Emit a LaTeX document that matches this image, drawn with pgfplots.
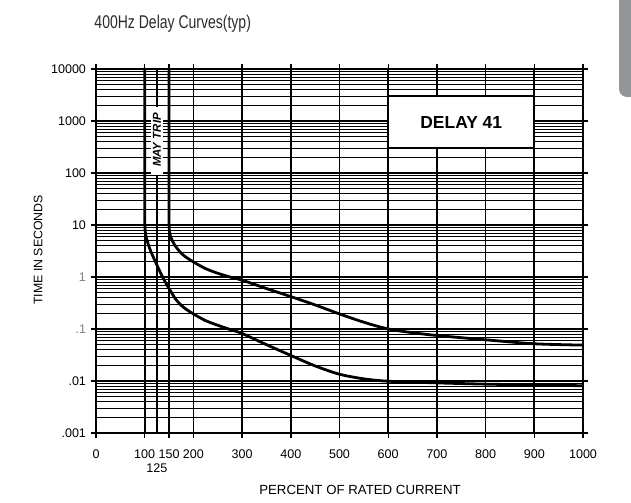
\documentclass[border=0pt]{standalone}
\usepackage{pgfplots}
\pgfplotsset{compat=1.18}
\usepackage{fontspec}
\setmainfont{Liberation Sans}
\newfontfamily\condfont[FakeStretch=0.76]{Liberation Sans}
\definecolor{tabgray}{HTML}{939598}
\definecolor{titlegray}{HTML}{2B2B2B}

\begin{document}
\begin{tikzpicture}[x=1bp,y=1bp]
\useasboundingbox (-96,-70) rectangle (535,433);
% side tab
\fill[tabgray, rounded corners=8bp] (523,450) -- (523,336) -- (560,336) -- (560,450) -- cycle;
% title
\node[anchor=base west, inner sep=0, text=titlegray,
      font=\condfont\fontsize{18.5}{20}\selectfont] at (-1.7,404.5) {400Hz Delay Curves(typ)};

\begin{axis}[
  at={(0,0)}, anchor=south west, scale only axis,
  width=487bp, height=364bp,
  xmin=0, xmax=1000, ymin=1e-3, ymax=1e4, ymode=log,
  xtick={0,100,150,200,300,400,500,600,700,800,900,1000},
  xticklabels={0,100,150,200,300,400,500,600,700,800,900,1000},
  ytick={1e-3,1e-2,1e-1,1,10,100,1000,10000},
  yticklabels={.001,.01,\textcolor{gray}{.1},\textcolor{gray}{1},10,100,1000,10000},
  grid=both,
  major grid style={line width=1.7bp, black},
  minor grid style={line width=1.05bp, black},
  axis line style={line width=1.8bp},
  tick align=outside,
  major tick length=5bp,
  minor tick length=0pt,
  tick style={line width=1.4bp, black},
  ticklabel style={font=\fontsize{12.6}{14}\selectfont},
  xticklabel style={anchor=base, yshift=-21bp},
  yticklabel style={anchor=east, xshift=-1.5bp},
  clip=false,
]
% lower curve
\addplot[line width=2.8bp, smooth, tension=0.5] coordinates {
  (100,10000)(100,100)(100,15)(100.5,9)(102,6.5)(105,5)(112,3.2)(125,1.7)
  (138,0.95)(150,0.6)(165,0.36)(180,0.26)(200,0.195)(225,0.145)(250,0.118)
  (275,0.098)(300,0.082)(350,0.05)(400,0.031)(450,0.0195)(500,0.0135)
  (550,0.011)(600,0.0099)(700,0.0092)(800,0.0087)(900,0.0084)(1000,0.0081)
};
% upper curve
\addplot[line width=2.8bp, smooth, tension=0.5] coordinates {
  (150,10000)(150,100)(150,12)(150.5,8)(152,6.5)(158,4.7)(167,3.5)(180,2.6)
  (200,1.95)(225,1.45)(250,1.18)(275,1.0)(300,0.87)(350,0.6)(400,0.42)
  (450,0.29)(500,0.195)(550,0.135)(600,0.1)(650,0.085)(700,0.075)
  (800,0.062)(900,0.052)(1000,0.049)
};
% dashed link between the two curves
\addplot[line width=2.4bp, dash pattern=on 4bp off 2.5bp] coordinates {(150,6.5)(150,0.6)};

% 125 marker line
\draw[line width=1.4bp] (axis cs:125,1e4) -- (axis cs:125,1e-3) -- ++(0,-17bp);
\node[anchor=base, inner sep=0, font=\fontsize{12.6}{14}\selectfont] at ([yshift=-39bp]axis cs:125,1e-3) {125};

% MAY TRIP label
\fill[white] (axis cs:112,91) rectangle (axis cs:138,1884);
\node[rotate=90, inner sep=0, font=\bfseries\itshape\fontsize{11.5}{13}\selectfont] at (axis cs:125,430) {MAY TRIP};

% DELAY 41 box
\draw[line width=2.2bp, fill=white] (axis cs:600,300) rectangle (axis cs:900,3000);
\node[font=\bfseries\fontsize{17.5}{20}\selectfont] at (axis cs:750,950) {DELAY 41};
\end{axis}

\node[rotate=90, font=\fontsize{12.4}{14}\selectfont] at (-58,183) {TIME IN SECONDS};
\node[font=\fontsize{13.3}{15}\selectfont] at (264,-57) {PERCENT OF RATED CURRENT};
\end{tikzpicture}
\end{document}
